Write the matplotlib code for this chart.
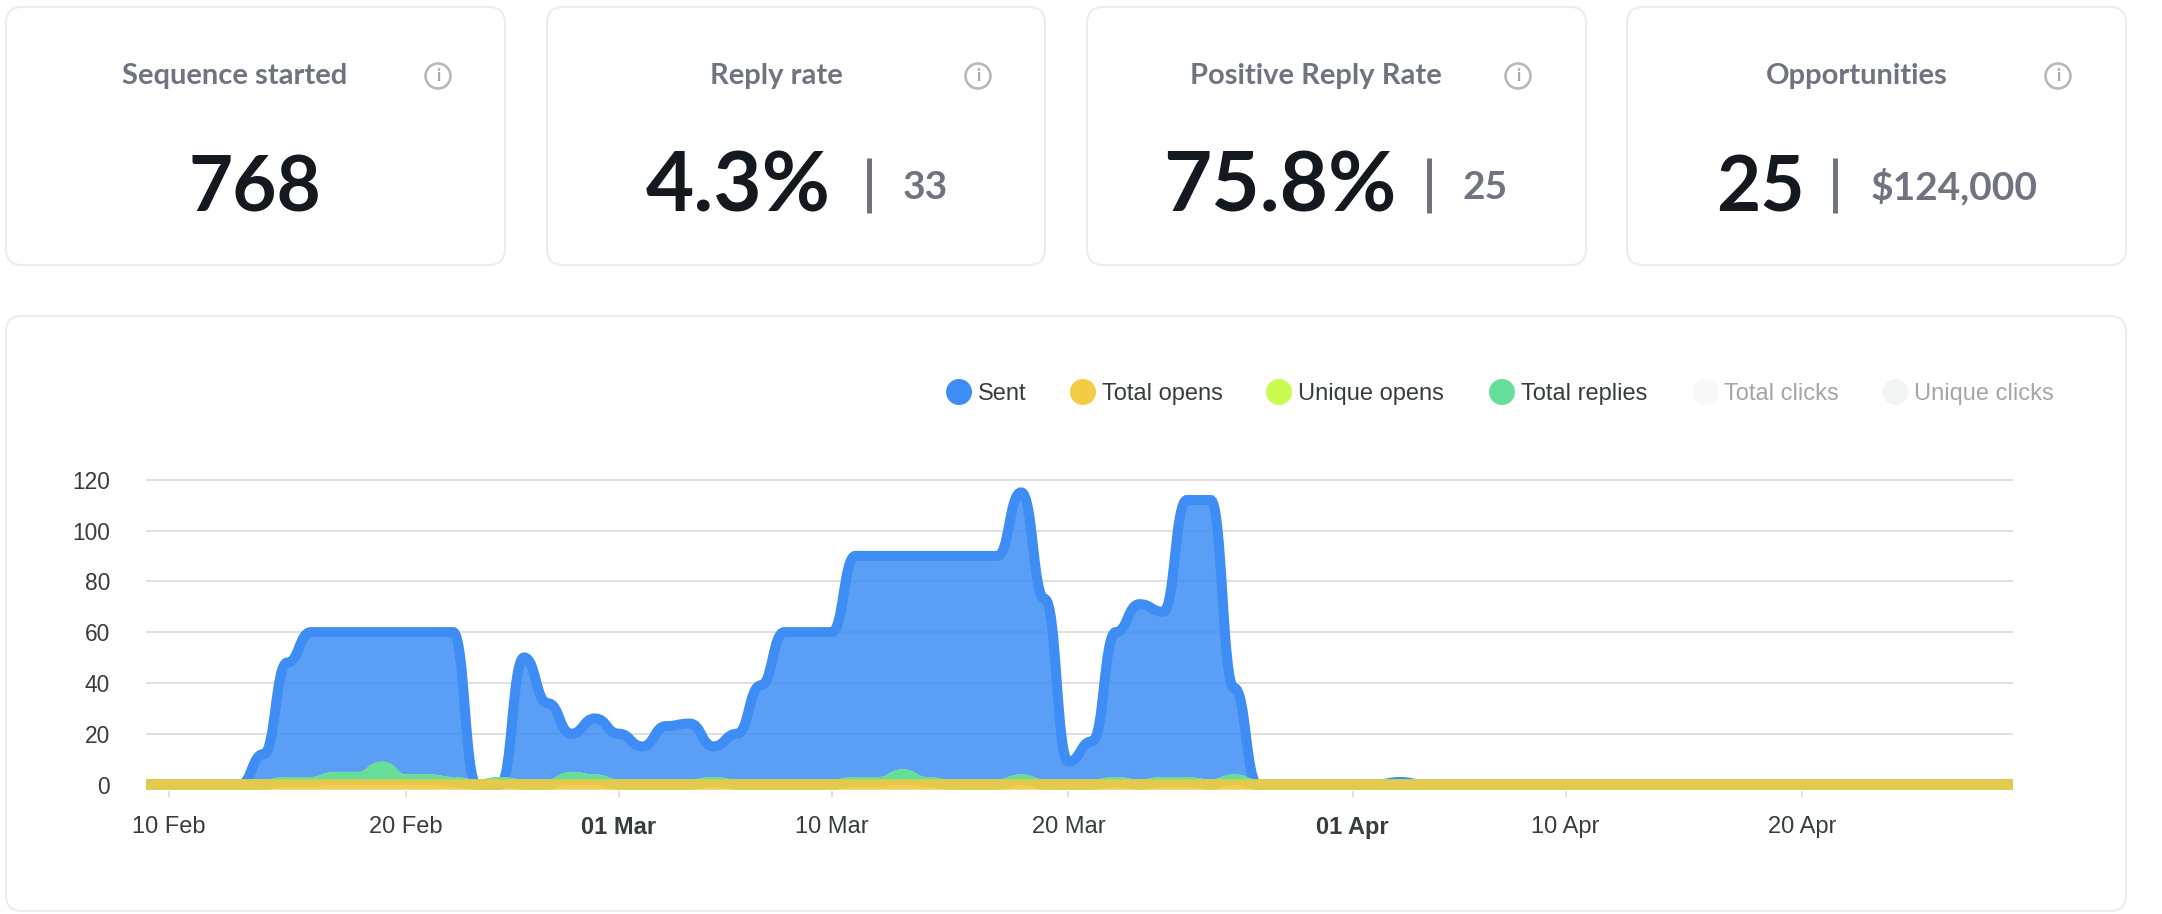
import matplotlib
matplotlib.use('Agg')
import matplotlib.pyplot as plt
import matplotlib.dates as mdates
import pandas as pd
from matplotlib.path import Path
from matplotlib.patches import PathPatch, FancyBboxPatch, Circle

W, H = 2162, 914

# chart data, one value a day from 09 Feb to 29 Apr
dates = pd.date_range('2023-02-09', '2023-04-29')
sent = [0, 0, 0, 0, 0, 12, 48, 60, 60, 60, 60, 60, 60, 60, 0, 0,
        50, 32, 20, 26, 20, 15, 23, 24, 15, 20, 39, 60, 60, 60,
        90, 90, 90, 90, 90, 90, 90, 115, 73, 9, 17, 60, 71, 68, 112, 112, 38, 0,
        0, 0, 0, 0, 0, 1, 0, 0, 0, 0, 0, 0, 0, 0, 0, 0, 0, 0, 0, 0, 0, 0,
        0, 0, 0, 0, 0, 0, 0, 0, 0, 0]
total_replies = [0, 0, 0, 0, 0, 0, 1, 1, 3, 3, 7, 2, 2, 1, 0, 1,
                 0, 0, 3, 2, 0, 0, 0, 0, 1, 0, 0, 0, 0, 0,
                 1, 1, 4, 1, 0, 0, 0, 2, 0, 0, 0, 1, 0, 1, 1, 0, 2, 0,
                 0, 0, 0, 0, 0, 0, 0, 0, 0, 0, 0, 0, 0, 0, 0, 0, 0, 0, 0, 0, 0, 0,
                 0, 0, 0, 0, 0, 0, 0, 0, 0, 0]
unique_opens = total_replies
total_opens = [0] * 80

y_ticks = [0, 20, 40, 60, 80, 100, 120]
x_tick_dates = ['2023-02-10', '2023-02-20', '2023-03-01', '2023-03-10',
                '2023-03-20', '2023-04-01', '2023-04-10', '2023-04-20']
x_tick_labels = ['10 Feb', '20 Feb', '01 Mar', '10 Mar', '20 Mar', '01 Apr', '10 Apr', '20 Apr']

legend_names = ['Sent', 'Total opens', 'Unique opens', 'Total replies', 'Total clicks', 'Unique clicks']
legend_colors = ['#3D8DF5', '#F3CB45', '#C9FB50', '#66DE9A', '#F8F8F8', '#F3F5F5']
legend_text = ['#373D3F', '#373D3F', '#373D3F', '#373D3F', '#A3A6A8', '#A3A6A8']
legend_dot_x = [959, 1083, 1279, 1502, 1705, 1895]

card_titles = ['Sequence started', 'Reply rate', 'Positive Reply Rate', 'Opportunities']
card_values = ['768', '4.3%', '75.8%', '25']
card_value_sizes = [55, 60, 60, 55]
card_extras = [None, '33', '25', '$124,000']

BLUE = '#3D8DF5'
GREEN = '#66DE9A'
LIME = '#C9FB50'
YELLOW = '#F2C845'
GREY = '#6F7480'
DARK = '#14181F'
TICK = '#373D3F'
LINE = '#E0E0E0'
FONT = 'Lato'
UNIT = 2.54  # pixels per unit on the y axis
ZERO = 784.5


def px(n):
    return n * 0.72


def curve(xs, ys, base=None):
    verts = [(xs[0], ys[0])]
    codes = [Path.MOVETO]
    for i in range(len(xs) - 1):
        dx = (xs[i + 1] - xs[i]) * 0.5
        verts += [(xs[i] + dx, ys[i]), (xs[i + 1] - dx, ys[i + 1]), (xs[i + 1], ys[i + 1])]
        codes += [Path.CURVE4] * 3
    if base is not None:
        verts += [(xs[-1], base), (xs[0], base), (xs[0], ys[0])]
        codes += [Path.LINETO, Path.LINETO, Path.CLOSEPOLY]
    return Path(verts, codes)


fig = plt.figure(figsize=(W / 100, H / 100), dpi=100, facecolor='white')

# page layer in pixels, cards and legend
page = fig.add_axes([0, 0, 1, 1], zorder=0)
page.set_xlim(0, W)
page.set_ylim(H, 0)
page.axis('off')


def card(x0, y0, x1, y1):
    page.add_patch(FancyBboxPatch((x0 + 16, y0 + 16), x1 - x0 - 32, y1 - y0 - 32,
                                  boxstyle='round,pad=16,rounding_size=16',
                                  fc='white', ec='#E9ECF0', lw=px(2)))


card_x = [(6, 505), (547, 1045), (1087, 1586), (1627, 2126)]
title_cx = [235, 776, 1316, 1857]
icon_cx = [438, 978, 1518, 2058]
value_x = [(255, 'center'), (646, 'left'), (1163, 'left'), (1716, 'left')]
bar_x = [None, 869, 1429, 1835]
extra_x = [None, 903, 1463, 1871]

for i in range(4):
    card(card_x[i][0], 7, card_x[i][1], 265)
    page.text(title_cx[i], 84, card_titles[i], ha='center', va='baseline',
              color=GREY, fontsize=21, fontweight='bold', family=FONT)
    page.add_patch(Circle((icon_cx[i], 76), 12.5, fc='white', ec='#B5B7BA', lw=px(2.6)))
    page.text(icon_cx[i], 76, 'i', ha='center', va='center', color='#A5A8AC',
              fontsize=12, fontweight='bold', family=FONT)
    page.text(value_x[i][0], 212, card_values[i], ha=value_x[i][1], va='baseline',
              color=DARK, fontsize=card_value_sizes[i], fontweight='bold', family=FONT)
    if card_extras[i]:
        page.plot([bar_x[i], bar_x[i]], [158, 213], color=GREY, lw=px(5), solid_capstyle='butt')
        page.text(extra_x[i], 199, card_extras[i], ha='left', va='baseline',
                  color=GREY, fontsize=28, fontweight='bold', family=FONT)

card(6, 316, 2126, 911)

for i in range(6):
    page.add_patch(Circle((legend_dot_x[i], 392), 13, fc=legend_colors[i], ec='none'))
    page.text(legend_dot_x[i] + 19, 400, legend_names[i], ha='left', va='baseline',
              color=legend_text[i], fontsize=17, family='Liberation Sans')

# chart
left, right, top, bottom = 146, 2013, 470, 791
ax = fig.add_axes([left / W, 1 - bottom / H, (right - left) / W, (bottom - top) / H], zorder=1)
ax.patch.set_alpha(0)
for s in ax.spines.values():
    s.set_visible(False)

xs = mdates.date2num(dates)
x0 = mdates.date2num(pd.Timestamp('2023-02-10'))
ax.set_xlim(x0 - 0.97, x0 + 77.9)
ax.set_ylim((ZERO - bottom) / UNIT, (ZERO - top) / UNIT)

ax.set_yticks(y_ticks)
ax.grid(axis='y', color=LINE, lw=px(2))
ax.set_axisbelow(True)
ax.tick_params(axis='y', length=0, pad=26, labelsize=16.4, labelcolor=TICK)
ax.set_xticks(mdates.date2num(pd.to_datetime(x_tick_dates)))
ax.set_xticklabels(x_tick_labels)
ax.tick_params(axis='x', length=px(6), width=px(2), color=LINE, pad=14, labelsize=17, labelcolor=TICK)
for lab in ax.get_xticklabels() + ax.get_yticklabels():
    lab.set_family('Liberation Sans')
    if lab.get_text().startswith('01'):
        lab.set_fontweight('bold')

ax.add_patch(PathPatch(curve(xs, sent, 0), fc=BLUE, ec='none', alpha=0.85, zorder=2))
ax.add_patch(PathPatch(curve(xs, sent), fc='none', ec=BLUE, lw=px(10), zorder=3))
ax.add_patch(PathPatch(curve(xs, unique_opens), fc='none', ec=LIME, lw=px(10), zorder=4))
ax.add_patch(PathPatch(curve(xs, total_replies, 0), fc=GREEN, ec='none', zorder=5))
ax.add_patch(PathPatch(curve(xs, total_replies), fc='none', ec=GREEN, lw=px(10), zorder=6))
ax.add_patch(PathPatch(curve(xs, total_opens), fc='none', ec=YELLOW, lw=px(10.5), alpha=0.9, capstyle='butt', zorder=7))

fig.savefig('out.png', dpi=100)
